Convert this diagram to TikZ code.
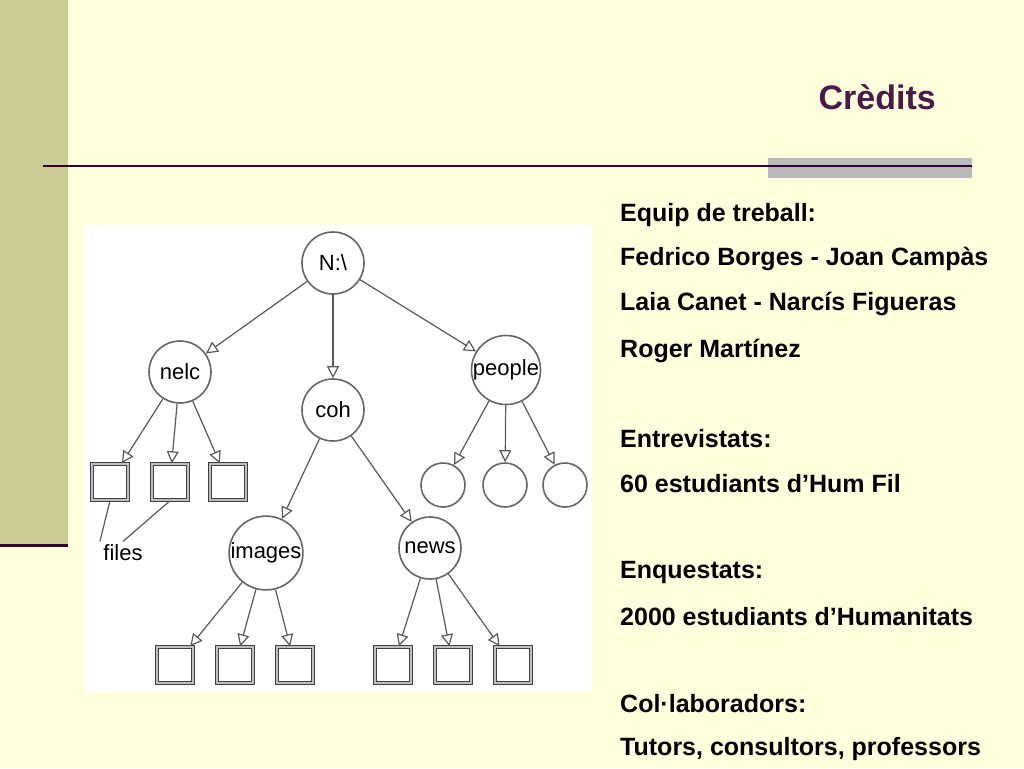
\documentclass[tikz,border=0pt]{standalone}
\usepackage{fontspec}
\setmainfont{Liberation Sans}
\setsansfont{Liberation Sans}
\usetikzlibrary{positioning}
\usetikzlibrary{arrows.meta}

\definecolor{paper}{HTML}{FFFFDD}
\definecolor{sidebar}{HTML}{CCCC99}
\definecolor{maroon}{HTML}{330033}
\definecolor{titlecol}{HTML}{4A1A4A}

\tikzset{
  dir/.style={circle, draw=gray!80!black, line width=1.6pt, minimum size=62pt, inner sep=0pt, font=\sffamily\fontsize{22}{22}\selectfont},
  leaf/.style={circle, draw=gray!80!black, line width=1.6pt, minimum size=44pt, inner sep=0pt},
  filebox/.style={draw=black!75, line width=1.5pt, minimum size=36pt, inner sep=0pt, double=gray!50, double distance=1.5pt},
  link/.style={gray!70!black, line width=1.2pt, -{Triangle[open,length=12pt,width=12pt]}},
  credit/.style={anchor=west, inner sep=0pt, font=\bfseries\fontsize{25}{25}\selectfont}
}

\begin{document}
\begin{tikzpicture}[x=1pt,y=-1pt]
\useasboundingbox (0,0) rectangle (1024,768);
%background
\fill[paper] (0,0) rectangle (1024,768);
\fill[sidebar] (0,0) rectangle (68,545);
\draw[maroon, line width=3pt] (0,545) -- (68,545);
%rule
\fill[gray!55] (768,158) rectangle (972,178);
\draw[maroon, line width=2pt] (43,166) -- (972,166);
%title
\node[anchor=east, inner sep=0pt, text=titlecol, font=\bfseries\fontsize{34}{34}\selectfont] (title) at (936,97) {Crèdits};
%tree picture
\fill[white] (85,225) rectangle (592,692);
\node[dir] (root) at (333,263) {N:\textbackslash};
\node[dir] (nelc) at (180,372) {nelc};
\node[dir] (coh) at (333,410) {coh};
\node[dir] (people) at (506,370) {people};
\node[dir] (images) at (266,553) {images};
\node[dir] (news) at (430,548) {news};
%files
\node[filebox] (f1) at (110,482) {};
\node[filebox] (f2) at (170,482) {};
\node[filebox] (f3) at (228,482) {};
\node[leaf] (p1) at (443,485) {};
\node[leaf] (p2) at (505,485) {};
\node[leaf] (p3) at (565,485) {};
\node[filebox] (i1) at (175,665) {};
\node[filebox] (i2) at (235,665) {};
\node[filebox] (i3) at (295,665) {};
\node[filebox] (n1) at (393,665) {};
\node[filebox] (n2) at (453,665) {};
\node[filebox] (n3) at (513,665) {};
\node[font=\sffamily\fontsize{22}{22}\selectfont] (files) at (123,553) {files};
%connectors
\draw[link] (root) -- (nelc);
\draw[link] (root) -- (coh);
\draw[link] (root) -- (people);
\draw[link] (coh) -- (images);
\draw[link] (coh) -- (news);
\foreach \a/\b in {nelc/f1, nelc/f2, nelc/f3, people/p1, people/p2, people/p3,
                   images/i1, images/i2, images/i3, news/n1, news/n2, news/n3}
  \draw[link] (\a) -- (\b);
\draw[gray!70!black, line width=1.2pt] (f1.south) -- (files.north west);
\draw[gray!70!black, line width=1.2pt] (f2.south) -- (files.north);
%credits
\node[credit] (c1) at (620,215) {Equip de treball:};
\node[credit] (c2) at (620,259) {Fedrico Borges - Joan Campàs};
\node[credit] (c3) at (620,304) {Laia Canet - Narcís Figueras};
\node[credit] (c4) at (620,351) {Roger Martínez};
\node[credit] (c5) at (620,439) {Entrevistats:};
\node[credit] (c6) at (620,484) {60 estudiants d’Hum Fil};
\node[credit] (c7) at (620,572) {Enquestats:};
\node[credit] (c8) at (620,617) {2000 estudiants d’Humanitats};
\node[credit] (c9) at (620,704) {Col·laboradors:};
\node[credit] (c10) at (620,749) {Tutors, consultors, professors};
\end{tikzpicture}
\end{document}
